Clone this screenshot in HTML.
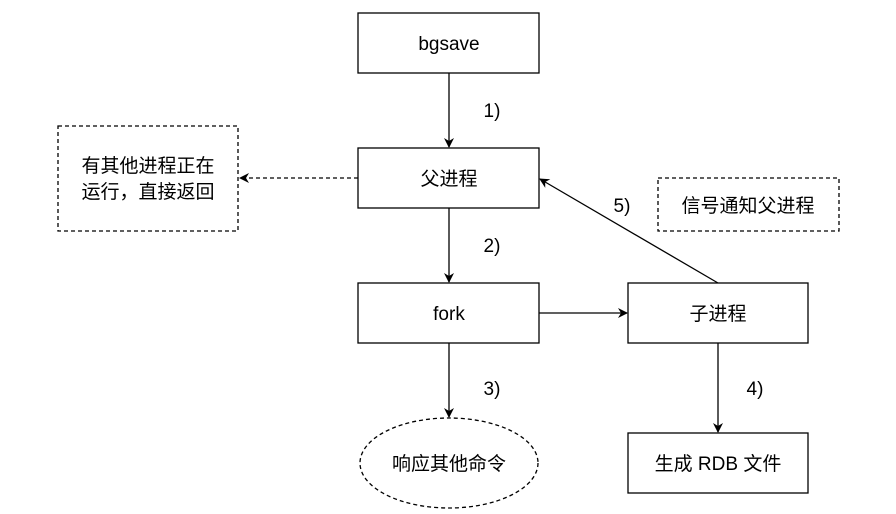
<!DOCTYPE html>
<html><head><meta charset="utf-8"><style>
html,body{margin:0;padding:0;background:#fff;}
svg text{font-family:"Liberation Sans","Noto Sans CJK SC",sans-serif;font-size:19px;fill:#000;}
</style></head><body>
<svg width="896" height="509" viewBox="0 0 896 509" xmlns="http://www.w3.org/2000/svg">
<defs><marker id="a" markerWidth="10" markerHeight="10" refX="9" refY="5" orient="auto" markerUnits="userSpaceOnUse"><path d="M0,0 L10,5 L0,10 L3,5 Z" fill="#000"/></marker></defs>
<g fill="#fff" stroke="#000" stroke-width="1.3">
<rect x="358" y="13" width="181" height="60"/>
<rect x="358" y="148" width="181" height="60"/>
<rect x="358" y="283" width="181" height="60"/>
<rect x="628" y="283" width="180" height="60"/>
<rect x="628" y="433" width="180" height="60"/>
<rect x="58" y="126" width="180" height="105" stroke-dasharray="4,3"/>
<rect x="658" y="178" width="181" height="53" stroke-dasharray="4,3"/>
<ellipse cx="449" cy="463" rx="89" ry="45" stroke-dasharray="4,3"/>
</g>
<g stroke="#000" stroke-width="1.3" fill="none">
<line x1="449" y1="73" x2="449" y2="147" marker-end="url(#a)"/>
<line x1="449" y1="208" x2="449" y2="282" marker-end="url(#a)"/>
<line x1="449" y1="343" x2="449" y2="417" marker-end="url(#a)"/>
<line x1="718" y1="343" x2="718" y2="432" marker-end="url(#a)"/>
<line x1="539" y1="313" x2="627" y2="313" marker-end="url(#a)"/>
<line x1="718" y1="283" x2="540" y2="179" marker-end="url(#a)"/>
<line x1="358" y1="178" x2="240" y2="178" stroke-dasharray="4,3" marker-end="url(#a)"/>
</g>
<g text-anchor="middle">
<text x="449" y="50">bgsave</text>
<text x="449" y="185">父进程</text>
<text x="449" y="320">fork</text>
<text x="718" y="320">子进程</text>
<text x="718" y="470">生成 RDB 文件</text>
<text x="449" y="470">响应其他命令</text>
<text x="148" y="172">有其他进程正在</text>
<text x="148" y="198">运行，直接返回</text>
<text x="748" y="212">信号通知父进程</text>
<text x="492" y="117">1)</text>
<text x="492" y="252">2)</text>
<text x="492" y="395">3)</text>
<text x="755" y="395">4)</text>
<text x="622" y="212">5)</text>
</g>
</svg>
</body></html>
